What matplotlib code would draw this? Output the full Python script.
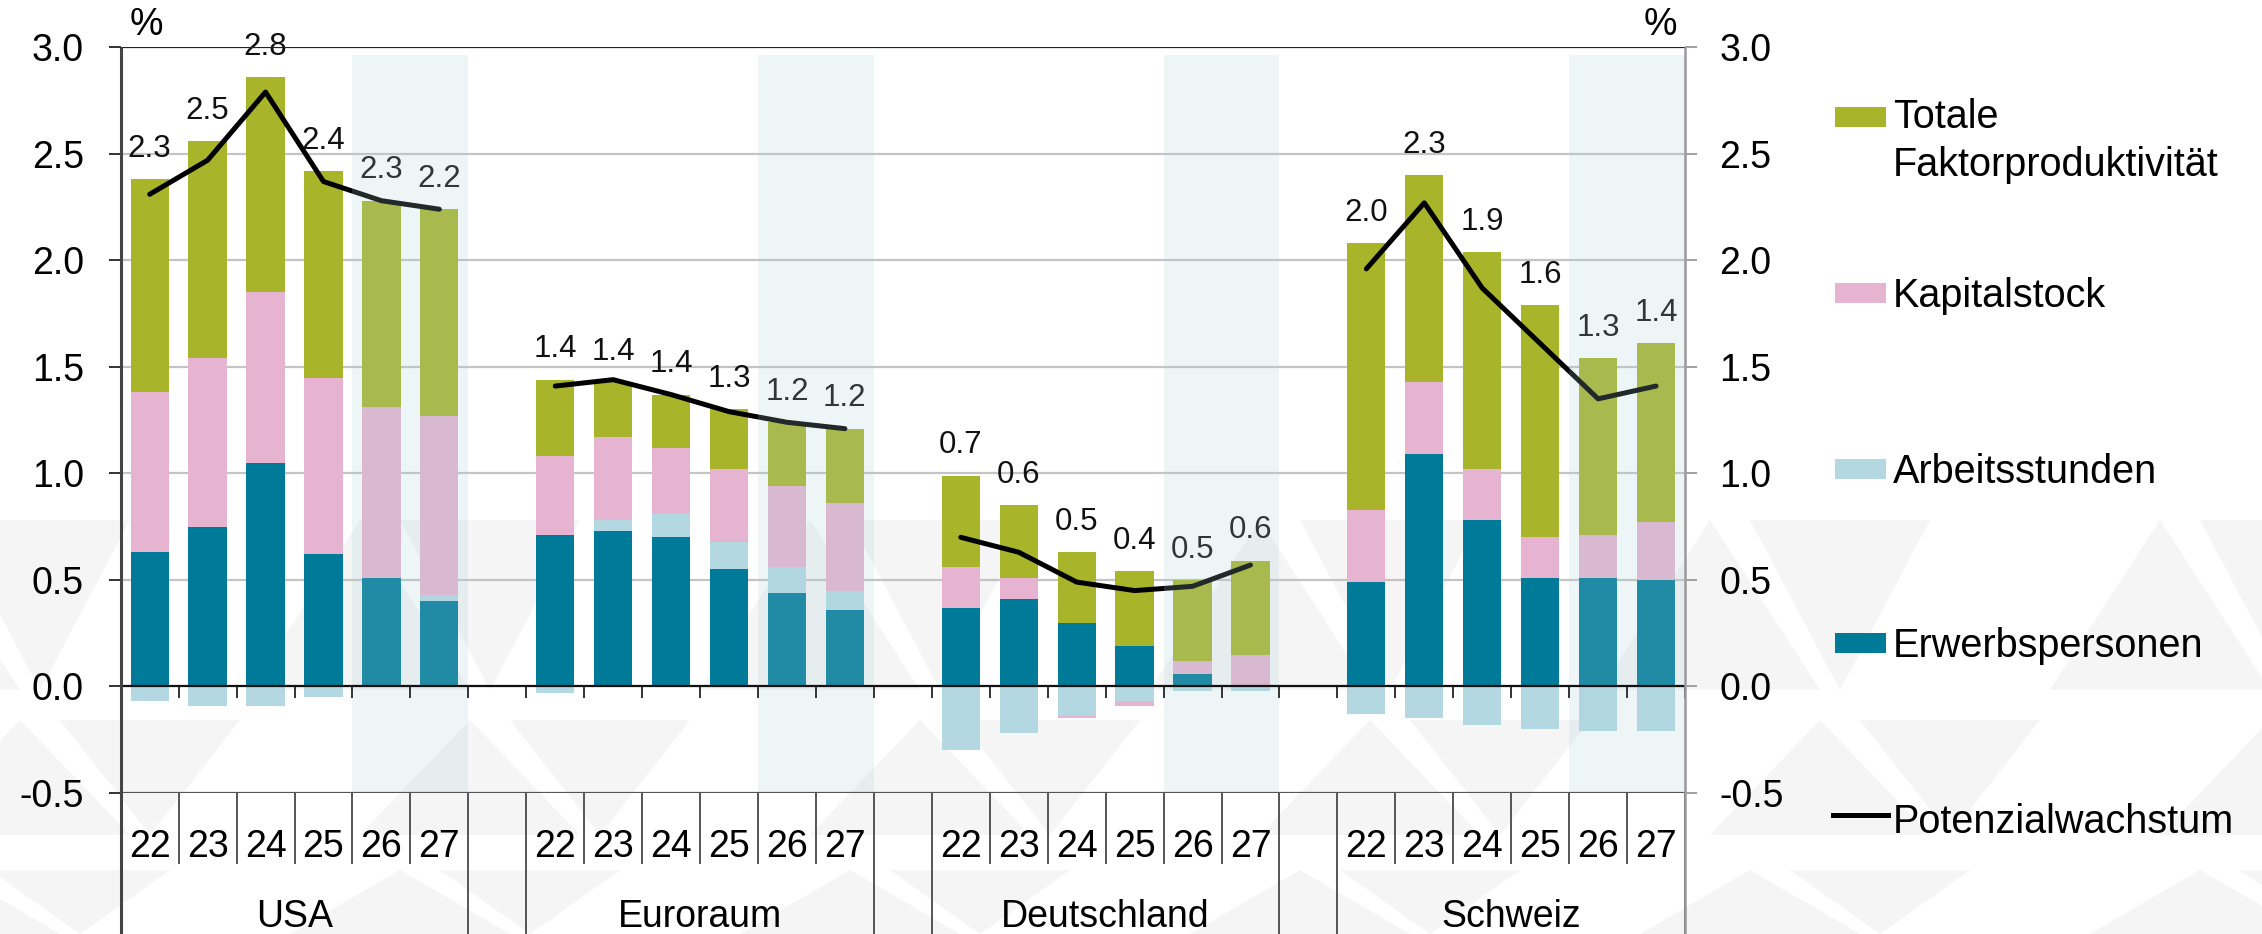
import matplotlib
matplotlib.use('Agg')
import matplotlib.pyplot as plt
from matplotlib.patches import Rectangle, Polygon
from matplotlib.lines import Line2D

plt.rcParams['font.family'] = ['Liberation Sans', 'DejaVu Sans']

# --- data (contributions in percentage points) ---
countries = ['USA', 'Euroraum', 'Deutschland', 'Schweiz']
years = ['22', '23', '24', '25', '26', '27']
forecast = ['26', '27']

erwerbspersonen = [
    [0.63, 0.75, 1.05, 0.62, 0.51, 0.40],
    [0.71, 0.73, 0.70, 0.55, 0.44, 0.36],
    [0.37, 0.41, 0.30, 0.19, 0.06, 0.00],
    [0.49, 1.09, 0.78, 0.51, 0.51, 0.50],
]
arbeitsstunden = [
    [-0.07, -0.09, -0.09, -0.05, 0.00, 0.03],
    [-0.03, 0.05, 0.11, 0.13, 0.12, 0.09],
    [-0.30, -0.22, -0.14, -0.07, -0.02, -0.02],
    [-0.13, -0.15, -0.18, -0.20, -0.21, -0.21],
]
kapitalstock = [
    [0.75, 0.79, 0.80, 0.83, 0.80, 0.84],
    [0.37, 0.39, 0.31, 0.34, 0.38, 0.41],
    [0.19, 0.10, -0.01, -0.02, 0.06, 0.15],
    [0.34, 0.34, 0.24, 0.19, 0.20, 0.27],
]
tfp = [
    [1.00, 1.02, 1.01, 0.97, 0.97, 0.97],
    [0.36, 0.26, 0.25, 0.28, 0.30, 0.35],
    [0.43, 0.34, 0.33, 0.35, 0.38, 0.44],
    [1.25, 0.97, 1.02, 1.09, 0.83, 0.84],
]
potenzial = [
    [2.31, 2.47, 2.79, 2.37, 2.28, 2.24],
    [1.41, 1.44, 1.37, 1.29, 1.24, 1.21],
    [0.70, 0.63, 0.49, 0.45, 0.47, 0.57],
    [1.96, 2.27, 1.87, 1.61, 1.35, 1.41],
]
labels = [
    ['2.3', '2.5', '2.8', '2.4', '2.3', '2.2'],
    ['1.4', '1.4', '1.4', '1.3', '1.2', '1.2'],
    ['0.7', '0.6', '0.5', '0.4', '0.5', '0.6'],
    ['2.0', '2.3', '1.9', '1.6', '1.3', '1.4'],
]

c_tfp = '#a8b42a'
c_kap = '#e6b3d1'
c_arb = '#b3d8e1'
c_erw = '#007a99'

W, H = 2262, 934
fig = plt.figure(figsize=(W / 100, H / 100), dpi=100)

def fx(x):
    return x / W

def fy(y):
    return 1 - y / H

# faint background watermark (rows of light grey triangles)
for y0, y1, shift in [(520, 690, 0), (720, 835, 110), (870, 934, 40)]:
    x = -200 + shift
    while x < W:
        up = [(fx(x), fy(y1)), (fx(x + 110), fy(y0)), (fx(x + 220), fy(y1))]
        dn = [(fx(x + 150), fy(y0)), (fx(x + 330), fy(y0)),
              (fx(x + 240), fy(y1))]
        for pts in (up, dn):
            fig.patches.append(Polygon(pts, closed=True, transform=fig.transFigure,
                                       facecolor='#f5f5f5', lw=0, zorder=-5))
        x += 450

ax = fig.add_axes([fx(120.7), fy(793), fx(1685 - 120.7), (793 - 47.3) / H])
ax.set_facecolor('none')
ax.set_xlim(-0.5, 26.5)
ax.set_ylim(-0.5, 3.0)
for s in ax.spines.values():
    s.set_visible(False)
ax.set_xticks([])
ax.set_yticks([-0.5, 0, 0.5, 1.0, 1.5, 2.0, 2.5, 3.0])
ax.set_yticklabels([f'{v:.1f}' for v in ax.get_yticks()])
ax.tick_params(axis='y', length=8.6, width=1.4, color='#333333', pad=18,
               labelsize=27, labelcolor='black')
for v in [0.5, 1.0, 1.5, 2.0, 2.5]:
    ax.axhline(v, color='#c4c4c4', lw=1.6, zorder=0)

ax2 = ax.twinx()
ax2.set_facecolor('none')
ax2.set_ylim(ax.get_ylim())
for s in ax2.spines.values():
    s.set_visible(False)
ax2.set_yticks(ax.get_yticks())
ax2.set_yticklabels([f'{v:.1f}' for v in ax.get_yticks()])
ax2.tick_params(axis='y', length=8.6, width=1.4, color='#a0a0a0', pad=16,
                labelsize=27, labelcolor='black')

bw = 0.66
xt = ax.get_xaxis_transform()
for g, country in enumerate(countries):
    xs = [g * 7 + j for j in range(len(years))]
    pos = [0.0] * len(years)
    neg = [0.0] * len(years)
    for series, col in [(erwerbspersonen, c_erw), (arbeitsstunden, c_arb),
                        (kapitalstock, c_kap), (tfp, c_tfp)]:
        vals = series[g]
        bottoms = [pos[i] if v >= 0 else neg[i] for i, v in enumerate(vals)]
        ax.bar(xs, vals, bw, bottom=bottoms, color=col, zorder=2, linewidth=0)
        for i, v in enumerate(vals):
            if v >= 0:
                pos[i] += v
            else:
                neg[i] += v
    ax.plot(xs, potenzial[g], color='black', lw=3.6, zorder=4,
            solid_capstyle='round', solid_joinstyle='round')
    for i, x in enumerate(xs):
        ax.annotate(labels[g][i], (x, pos[i]), xytext=(0, 11),
                    textcoords='offset points', ha='center', va='bottom',
                    fontsize=22.5, color='#111111', zorder=5)
    # forecast shading
    fi = [years.index(y) for y in forecast]
    ax.axvspan(xs[fi[0]] - 0.5, xs[fi[-1]] + 0.5, ymin=0, ymax=0.99,
               color='#a8d1db', alpha=0.2, lw=0, zorder=6)
    # small ticks on the zero line
    bounds = [xs[0] - 0.5 + k for k in range(len(years) + 1)]
    ax.vlines(bounds, -0.056, 0, color='#333333', lw=1.4, zorder=7)
    # category separators below the axis
    ax.vlines(bounds[1:-1], -0.0952, 0, transform=xt, clip_on=False,
              color='#555555', lw=1.4)
    ax.vlines([bounds[0], bounds[-1]], -0.19, 0, transform=xt, clip_on=False,
              color='#555555', lw=1.4)
    for i, x in enumerate(xs):
        ax.text(x, -0.0858, years[i], transform=xt, ha='center',
                va='baseline', fontsize=27)
    ax.text((xs[0] + xs[-1]) / 2, -0.180, country, transform=xt,
            ha='center', va='baseline', fontsize=27)

ax.axhline(3.0, color='#222222', lw=1.6, zorder=7)
ax.axhline(0.0, color='#111111', lw=1.6, zorder=7)
ax.axhline(-0.5, color='#555555', lw=1.6, zorder=7)
# vertical axes lines running down through the label area
ax.vlines([-0.5], -0.19, 1, transform=xt, clip_on=False,
          color='#444444', lw=2.2, zorder=8)
ax.vlines([26.5], -0.19, 1, transform=xt, clip_on=False,
          color='#9a9a9a', lw=1.8, zorder=8)

fig.text(fx(130), fy(25), '%', fontsize=27, ha='left', va='center')
fig.text(fx(1677), fy(25), '%', fontsize=27, ha='right', va='center')

# legend
leg_items = [
    ('Totale\nFaktorproduktivität', c_tfp, 117),
    ('Kapitalstock', c_kap, 293),
    ('Arbeitsstunden', c_arb, 469),
    ('Erwerbspersonen', c_erw, 643),
]
for text, col, yc in leg_items:
    fig.patches.append(Rectangle((fx(1835), fy(yc + 10)), fx(51), 20 / H,
                                 transform=fig.transFigure, color=col,
                                 lw=0))
    if '\n' in text:
        fig.text(fx(1893), fy(yc - 19), text, fontsize=28.5, ha='left',
                 va='top', linespacing=1.35)
    else:
        fig.text(fx(1893), fy(yc + 14), text, fontsize=28.5, ha='left',
                 va='baseline')
fig.lines.append(Line2D([fx(1833), fx(1888)], [fy(815), fy(815)],
                        transform=fig.transFigure, color='black', lw=3.6))
fig.text(fx(1893), fy(833), 'Potenzialwachstum', fontsize=28.5, ha='left',
         va='baseline')

fig.savefig('out.png', dpi=100)
